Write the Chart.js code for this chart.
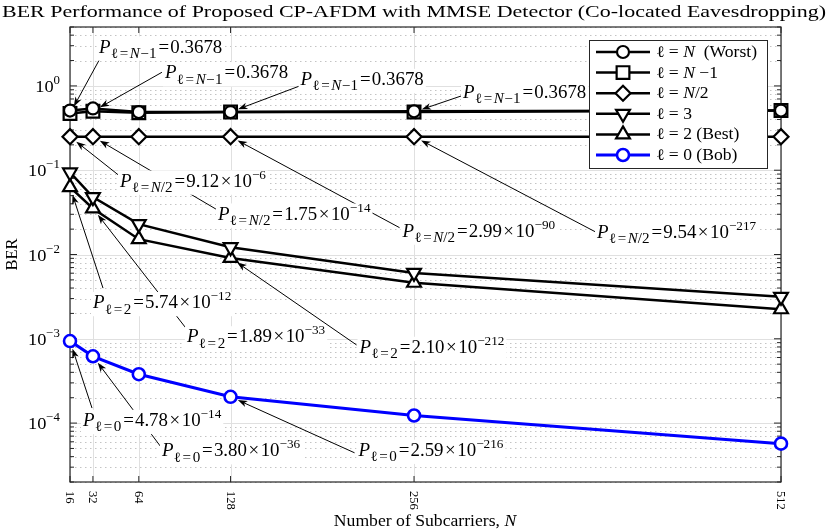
<!DOCTYPE html>
<html><head><meta charset="utf-8">
<script src="https://cdn.jsdelivr.net/npm/chart.js@4/dist/chart.umd.min.js"></script>
<style>html,body{margin:0;padding:0;background:#fff;}canvas{display:block;}</style>
</head><body>
<canvas id="c" width="830" height="531"></canvas>
<script>
// ---------------- data ----------------
const N_VALUES   = [16, 32, 64, 128, 256, 512];
const BER_WORST  = [0.51, 0.54, 0.49, 0.49, 0.50, 0.51];
const BER_NM1    = [0.47, 0.50, 0.48, 0.49, 0.49, 0.51];
const BER_HALF   = [0.25, 0.25, 0.25, 0.25, 0.25, 0.25];
const BER_L3     = [0.094, 0.048, 0.0229, 0.0122, 0.00605, 0.00315];
const BER_L2     = [0.063, 0.0352, 0.0152, 0.0091, 0.00462, 0.00224];
const BER_BOB    = [9.4e-4, 6.2e-4, 3.8e-4, 2.05e-4, 1.23e-4, 5.7e-5];
const X_TICKS    = [16, 32, 64, 128, 256, 512];
const Y_DECADE_EXP = [0, -1, -2, -3, -4];
const SERIES_LABELS = ['ℓ = *N*  (Worst)', 'ℓ = *N* −1', 'ℓ = *N*/2', 'ℓ = 3', 'ℓ = 2 (Best)', 'ℓ = 0 (Bob)'];
const TITLE = 'BER Performance of Proposed CP-AFDM with MMSE Detector (Co-located Eavesdropping)';
const X_TITLE = 'Number of Subcarriers, *N*';
const Y_TITLE = 'BER';
// annotation texts: series index, point index, subscript, mantissa, exponent
const ANN_SERIES = [1,1,1,1, 2,2,2,2, 4,4,4, 5,5,5];
const ANN_POINT  = [0,1,3,4, 0,1,3,4, 0,1,3, 0,1,3];
const ANN_SUB    = ['N−1','N−1','N−1','N−1','N/2','N/2','N/2','N/2','2','2','2','0','0','0'];
const ANN_MANT   = ['0.3678','0.3678','0.3678','0.3678','9.12','1.75','2.99','9.54','5.74','1.89','2.10','4.78','3.80','2.59'];
const ANN_EXP    = ['','','','','−6','−14','−90','−217','−12','−33','−212','−14','−36','−216'];

// ---------------- layout (pixel offsets from the annotated point) ----------------
const ANN_TEXT_OFF = [[29,-61],[72,-33],[70,-27],[49,-14],[50,50],[125,83],[172,100],[183,101],[23,121],[94,134],[129,95],[13,85],[69,100],[128,59]];
const ANN_TAIL_OFF = [[30,-55],[69,-39],[69,-26],[47,-16],[48,38],[124,73],[169,91],[181,95],[33,101],[94,121],[126,87],[22,67],[69,92],[124,56]];

const FAM = '"Liberation Serif","DejaVu Serif",serif';
function font(size, it){ return (it ? 'italic ' : '') + size + 'px ' + FAM; }
function parseMarkup(str){ return str.split('*').map((t,k)=>({t, it: k%2===1})).filter(s=>s.t.length); }

function layoutRich(ctx, segs, size){
  let w = 0; const out = [];
  for (const s of segs){
    const fs = s.sub ? size*(s.r||0.7) : (s.sup ? size*0.7 : size);
    ctx.font = font(fs, s.it);
    const pl = (s.pl||0)*size, pr = (s.pr||0)*size;
    const tw = ctx.measureText(s.t).width;
    out.push({s, fs, x: w+pl, dy: s.sub ? size*0.3 : (s.sup ? -size*0.45 : 0)});
    w += pl + tw + pr;
  }
  return {w, out};
}
function drawRich(ctx, segs, x, y, size, opt){
  opt = opt || {};
  const sx = opt.sx || 1;
  const L = layoutRich(ctx, segs, size);
  if (opt.bg){ ctx.fillStyle = '#fff'; ctx.fillRect(x-2, y-0.9*size, L.w*sx+4, 1.35*size); }
  ctx.save(); ctx.translate(x, y); ctx.scale(sx, 1);
  ctx.fillStyle = opt.color || '#000'; ctx.textBaseline = 'alphabetic'; ctx.textAlign = 'left';
  for (const o of L.out){ ctx.font = font(o.fs, o.s.it); ctx.fillText(o.s.t, o.x, o.dy); }
  ctx.restore();
  return L.w*sx;
}
function annSegs(k){
  const R = 0.8;
  const segs = [{t:'P', it:true, pr:0.02}, {t:'ℓ', sub:true, r:R}, {t:'=', sub:true, r:R, pl:0.08, pr:0.08}];
  const sub = ANN_SUB[k];
  if (sub.startsWith('N')){
    segs.push({t:'N', it:true, sub:true, r:R});
    const rest = sub.slice(1);
    if (rest.startsWith('−')){ segs.push({t:'−', sub:true, r:R, pl:0.02, pr:0.02}); segs.push({t:rest.slice(1), sub:true, r:R}); }
    else segs.push({t:rest, sub:true, r:R});
  } else segs.push({t:sub, sub:true, r:R});
  segs.push({t:'=', pl:0.1, pr:0.06});
  segs.push({t:ANN_MANT[k]});
  if (ANN_EXP[k]){ segs.push({t:'×', pl:0.08, pr:0.08}); segs.push({t:'10'}); segs.push({t:ANN_EXP[k], sup:true}); }
  return segs;
}
function arrow(ctx, tx, ty, hx, hy){
  const a = Math.atan2(hy-ty, hx-tx), L = 9.5, W = 3.4, c = Math.cos(a), s = Math.sin(a);
  ctx.strokeStyle = '#000'; ctx.fillStyle = '#000'; ctx.lineWidth = 1;
  ctx.beginPath(); ctx.moveTo(tx, ty); ctx.lineTo(hx - c*L*0.7, hy - s*L*0.7); ctx.stroke();
  ctx.beginPath(); ctx.moveTo(hx, hy);
  ctx.lineTo(hx - L*c + W*s, hy - L*s - W*c);
  ctx.lineTo(hx - 0.72*L*c, hy - 0.72*L*s);
  ctx.lineTo(hx - L*c - W*s, hy - L*s + W*c);
  ctx.closePath(); ctx.fill();
}
function mk(vals){ return N_VALUES.map((n,i)=>({x:n, y:vals[i]})); }

const datasets = [
  {label:'worst', data:mk(BER_WORST), borderColor:'#000', borderWidth:2.5, pointStyle:'circle', pointRadius:6, pointBorderWidth:2.2, pointBackgroundColor:'#fff', pointBorderColor:'#000'},
  {label:'nm1',   data:mk(BER_NM1),   borderColor:'#000', borderWidth:2.5, pointStyle:'rect', pointRadius:9, pointBorderWidth:2.2, pointBackgroundColor:'#fff', pointBorderColor:'#000'},
  {label:'half',  data:mk(BER_HALF),  borderColor:'#000', borderWidth:2.5, pointStyle:'rectRot', pointRadius:7.5, pointBorderWidth:2.2, pointBackgroundColor:'#fff', pointBorderColor:'#000'},
  {label:'l3',    data:mk(BER_L3),    borderColor:'#000', borderWidth:2.5, pointStyle:'triangle', pointRotation:180, pointRadius:8, pointBorderWidth:2.2, pointBackgroundColor:'#fff', pointBorderColor:'#000'},
  {label:'l2',    data:mk(BER_L2),    borderColor:'#000', borderWidth:2.5, pointStyle:'triangle', pointRadius:8, pointBorderWidth:2.2, pointBackgroundColor:'#fff', pointBorderColor:'#000'},
  {label:'bob',   data:mk(BER_BOB),   borderColor:'#0000ff', borderWidth:3, pointStyle:'circle', pointRadius:6, pointBorderWidth:2.6, pointBackgroundColor:'#fff', pointBorderColor:'#0000ff'}
].map(d=>Object.assign(d, {tension:0, clip:false, fill:false}));

const AXC = '#262626';
const decor = {
  id:'decor',
  beforeDatasetsDraw(chart){
    const ctx = chart.ctx, {left,right,top,bottom} = chart.chartArea, xs = chart.scales.x, ys = chart.scales.y;
    ctx.save();
    ctx.strokeStyle = '#c4c4c4'; ctx.lineWidth = 1; ctx.setLineDash([1.5,3.5]);
    const minors = [];
    for (let e=-5; e<=0; e++) for (let k=2; k<=9; k++){ const v = k*Math.pow(10,e); if (v>=ys.min && v<=ys.max) minors.push(v); }
    for (const v of minors){ const y = Math.round(ys.getPixelForValue(v))+0.5; ctx.beginPath(); ctx.moveTo(left,y); ctx.lineTo(right,y); ctx.stroke(); }
    ctx.setLineDash([]);
    ctx.strokeStyle = '#e0e0e0';
    for (const e of Y_DECADE_EXP){ const y = Math.round(ys.getPixelForValue(Math.pow(10,e)))+0.5; ctx.beginPath(); ctx.moveTo(left,y); ctx.lineTo(right,y); ctx.stroke(); }
    for (const n of X_TICKS){ const x = Math.round(xs.getPixelForValue(n))+0.5; ctx.beginPath(); ctx.moveTo(x,top); ctx.lineTo(x,bottom); ctx.stroke(); }
    ctx.strokeStyle = AXC; ctx.lineWidth = 1.2;
    ctx.strokeRect(left, top, right-left, bottom-top);
    ctx.lineWidth = 1;
    for (const n of X_TICKS){ const x = xs.getPixelForValue(n); ctx.beginPath(); ctx.moveTo(x,bottom); ctx.lineTo(x,bottom-6); ctx.moveTo(x,top); ctx.lineTo(x,top+6); ctx.stroke(); }
    for (const e of Y_DECADE_EXP){ const y = ys.getPixelForValue(Math.pow(10,e)); ctx.beginPath(); ctx.moveTo(left,y); ctx.lineTo(left+7,y); ctx.moveTo(right,y); ctx.lineTo(right-7,y); ctx.stroke(); }
    for (const v of minors){ const y = ys.getPixelForValue(v); ctx.beginPath(); ctx.moveTo(left,y); ctx.lineTo(left+4,y); ctx.moveTo(right,y); ctx.lineTo(right-4,y); ctx.stroke(); }
    ctx.restore();
  },
  afterDatasetsDraw(chart){
    const ctx = chart.ctx, {left,right,top,bottom} = chart.chartArea, xs = chart.scales.x, ys = chart.scales.y;
    ctx.save();
    // y tick labels
    for (const e of Y_DECADE_EXP){
      const y = ys.getPixelForValue(Math.pow(10,e));
      const segs = [{t:'10'}, {t: e===0 ? '0' : '−'+(-e), sup:true}];
      const w = layoutRich(ctx, segs, 17.5).w*1.05;
      drawRich(ctx, segs, left-10-w, y+6, 17.5, {sx:1.05});
    }
    // x tick labels (rotated clockwise)
    ctx.fillStyle = '#000'; ctx.font = font(12.5);
    for (const n of X_TICKS){
      const x = xs.getPixelForValue(n);
      ctx.save(); ctx.translate(x, bottom+9); ctx.rotate(Math.PI/2);
      ctx.textAlign = 'left'; ctx.textBaseline = 'middle'; ctx.fillText(String(n), 0, 0.5); ctx.restore();
    }
    // annotations: arrows first, then boxed texts
    const pts = ANN_SERIES.map((s,k)=>{
      const d = datasets[s].data[ANN_POINT[k]];
      return [xs.getPixelForValue(d.x), ys.getPixelForValue(d.y)];
    });
    pts.forEach((p,k)=>{
      const tx = p[0]+ANN_TAIL_OFF[k][0], ty = p[1]+ANN_TAIL_OFF[k][1];
      const dx = tx-p[0], dy = ty-p[1], L = Math.hypot(dx,dy), g = 8;
      arrow(ctx, tx, ty, p[0]+dx/L*g, p[1]+dy/L*g);
    });
    pts.forEach((p,k)=>{
      drawRich(ctx, annSegs(k), p[0]+ANN_TEXT_OFF[k][0], p[1]+ANN_TEXT_OFF[k][1], 18, {bg:true, sx:1.05});
    });
    // legend
    const lx = right-192, ly = top+13, lw = 178, lh = 128;
    ctx.fillStyle = '#fff'; ctx.fillRect(lx, ly, lw, lh);
    ctx.strokeStyle = AXC; ctx.lineWidth = 1; ctx.strokeRect(lx+0.5, ly+0.5, lw, lh);
    datasets.forEach((d,k)=>{
      const y = ly + 12 + k*20.6;
      ctx.strokeStyle = d.borderColor; ctx.lineWidth = d.borderWidth;
      ctx.beginPath(); ctx.moveTo(lx+7, y); ctx.lineTo(lx+61, y); ctx.stroke();
      ctx.fillStyle = '#fff'; ctx.strokeStyle = d.pointBorderColor; ctx.lineWidth = d.pointBorderWidth;
      Chart.helpers.drawPoint(ctx, {pointStyle:d.pointStyle, radius:d.pointRadius, rotation:d.pointRotation||0, borderWidth:d.pointBorderWidth}, lx+34, y);
      drawRich(ctx, parseMarkup(SERIES_LABELS[k]), lx+67, y+5, 16, {sx:1.1});
    });
    // title
    ctx.fillStyle = '#000'; ctx.font = font(17); ctx.textBaseline = 'alphabetic'; ctx.textAlign = 'left';
    const tw = ctx.measureText(TITLE).width, sx = 824/tw;
    ctx.save(); ctx.translate(2, 17); ctx.scale(sx, 1); ctx.fillText(TITLE, 0, 0); ctx.restore();
    // x title
    const xsegs = parseMarkup(X_TITLE);
    const xw = layoutRich(ctx, xsegs, 16.5).w*1.07;
    drawRich(ctx, xsegs, 425 - xw/2, 526, 16.5, {sx:1.07});
    // y title
    ctx.save(); ctx.translate(17, (top+bottom)/2); ctx.rotate(-Math.PI/2);
    ctx.font = font(16.5); ctx.textAlign = 'center'; ctx.textBaseline = 'alphabetic'; ctx.fillStyle = '#000';
    ctx.fillText(Y_TITLE, 0, 0); ctx.restore();
    ctx.restore();
  }
};

new Chart(document.getElementById('c'), {
  type:'line',
  data:{datasets},
  options:{
    responsive:false, animation:false, devicePixelRatio:1,
    layout:{padding:{top:27, left:0, right:49, bottom:0}},
    plugins:{legend:{display:false}, title:{display:false}, tooltip:{enabled:false}},
    scales:{
      x:{type:'linear', min:16, max:512, offset:false,
         ticks:{display:false}, grid:{display:false}, border:{display:false},
         afterBuildTicks:(s)=>{ s.ticks = X_TICKS.map(v=>({value:v})); },
         afterFit:(s)=>{ s.height = 49; }},
      y:{type:'logarithmic', min:2e-5, max:5,
         ticks:{display:false}, grid:{display:false}, border:{display:false},
         afterFit:(s)=>{ s.width = 70; }}
    }
  },
  plugins:[decor]
});
</script>
</body></html>
